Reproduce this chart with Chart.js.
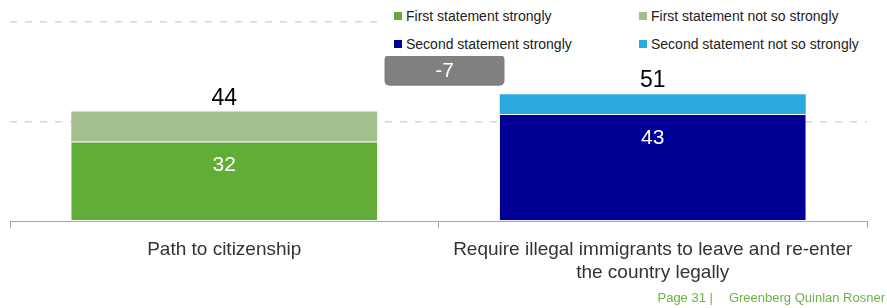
<!DOCTYPE html>
<html>
<head>
<meta charset="utf-8">
<script src="https://cdn.jsdelivr.net/npm/chart.js@4.4.1/dist/chart.umd.min.js"></script>
<style>
    body { margin: 0; background: #fff; font-family: "Liberation Sans", Arial, sans-serif; }
    #wrap { position: relative; width: 887px; height: 308px; overflow: hidden; }
    #legend { position: absolute; left: 380px; top: 0; width: 507px; height: 56px; background: #fff; }
    .item { position: absolute; font-size: 14px; color: #222; line-height: 16px; white-space: nowrap; }
    .item i { position: absolute; left: -12px; top: 4px; width: 8px; height: 8px; }
    #footer { position: absolute; right: 2px; bottom: 3px; font-size: 13px; color: #6db33f; white-space: nowrap; }
    #footer span { margin-left: 16px; }
</style>
</head>
<body>
<div id="wrap">
    <canvas id="chart" width="887" height="308"></canvas>
    <div id="legend"></div>
    <div id="footer">Page 31 |<span>Greenberg Quinlan Rosner</span></div>
</div>
<script>
// Data
const categories = [
    ['Path to citizenship'],
    ['Require illegal immigrants to leave and re-enter', 'the country legally']
];
const firstStrongly = [32, null];
const firstNotSo = [12, null];
const secondStrongly = [null, 43];
const secondNotSo = [null, 8];
const totals = [44, 51];
const yTicks = [0, 40, 80];

const seriesLabels = [
    'First statement strongly',
    'First statement not so strongly',
    'Second statement strongly',
    'Second statement not so strongly'
];
const seriesColors = ['#62ad37', '#a3bf8f', '#000096', '#2aa8e0'];

const FONT = '"Liberation Sans", Arial, sans-serif';

// legend (HTML, sits on top of the upper grid line like in the original)
const legendPos = [
    { left: 26, top: 8 },
    { left: 271, top: 8 },
    { left: 26, top: 36 },
    { left: 271, top: 36 }
];
document.getElementById('legend').innerHTML = seriesLabels.map((label, i) => `
    <div class="item" style="left:${legendPos[i].left}px;top:${legendPos[i].top}px">
        <i style="background:${seriesColors[i]}"></i>${label}
    </div>
`).join('');

// value labels, totals and the difference box
const labelsPlugin = {
    id: 'valueLabels',
    afterDatasetsDraw(chart) {
        const { ctx } = chart;
        const x = chart.scales.x;
        const y = chart.scales.y;
        const strong = [firstStrongly, secondStrongly];

        ctx.save();
        ctx.textAlign = 'center';

        totals.forEach((total, i) => {
            const cx = x.getPixelForValue(i);

            ctx.fillStyle = '#000';
            ctx.font = '23px ' + FONT;
            ctx.textBaseline = 'alphabetic';
            ctx.fillText(total, cx, y.getPixelForValue(total) - 7);

            const v = strong[i][i];
            ctx.fillStyle = '#fff';
            ctx.font = '21px ' + FONT;
            ctx.textBaseline = 'middle';
            ctx.fillText(v, cx, y.getPixelForValue(v) + 24);
        });

        // gap box
        const diff = totals[0] - totals[1];
        const bx = (x.getPixelForValue(0) + x.getPixelForValue(1)) / 2 + 6;
        const by = y.getPixelForValue(Math.max(...totals)) - 24;
        const w = 120, h = 31;
        ctx.fillStyle = '#808080';
        ctx.beginPath();
        ctx.roundRect(bx - w / 2, by - h / 2, w, h, 5);
        ctx.fill();
        ctx.fillStyle = '#fff';
        ctx.font = '21px ' + FONT;
        ctx.textBaseline = 'middle';
        ctx.fillText(diff, bx, by + 1);

        ctx.restore();
    }
};

const datasets = [firstStrongly, firstNotSo, secondStrongly, secondNotSo].map((data, i) => ({
    label: seriesLabels[i],
    data: data,
    backgroundColor: seriesColors[i],
    borderColor: '#fff',
    borderWidth: i % 2 === 0 ? { top: 1, left: 0, right: 0, bottom: 0 } : 0,
    borderSkipped: false,
    barPercentage: 0.714,
    categoryPercentage: 1
}));

new Chart(document.getElementById('chart'), {
    type: 'bar',
    data: { labels: categories, datasets: datasets },
    options: {
        responsive: false,
        animation: false,
        layout: { padding: { left: 10, right: 20, top: 22, bottom: 0 } },
        plugins: {
            legend: { display: false },
            tooltip: { enabled: false }
        },
        scales: {
            x: {
                stacked: true,
                afterFit: (scale) => { scale.height = 87; },
                grid: {
                    offset: true,
                    drawOnChartArea: false,
                    drawTicks: true,
                    tickLength: 7,
                    color: '#a6a6a6'
                },
                border: { display: true, color: '#a6a6a6', width: 1 },
                ticks: {
                    color: '#333',
                    padding: 10,
                    maxRotation: 0,
                    autoSkip: false,
                    font: { family: FONT, size: 19, lineHeight: '23.5px' }
                }
            },
            y: {
                stacked: true,
                min: 0,
                max: 80,
                afterBuildTicks: (scale) => {
                    scale.ticks = yTicks.map(v => ({ value: v }));
                },
                ticks: { display: false },
                grid: {
                    drawTicks: false,
                    lineWidth: 1.5,
                    color: (c) => c.tick && c.tick.value === 0 ? 'rgba(0,0,0,0)' : '#d6d6d6'
                },
                border: { display: false, dash: [7, 8] }
            }
        }
    },
    plugins: [labelsPlugin]
});
</script>
</body>
</html>
